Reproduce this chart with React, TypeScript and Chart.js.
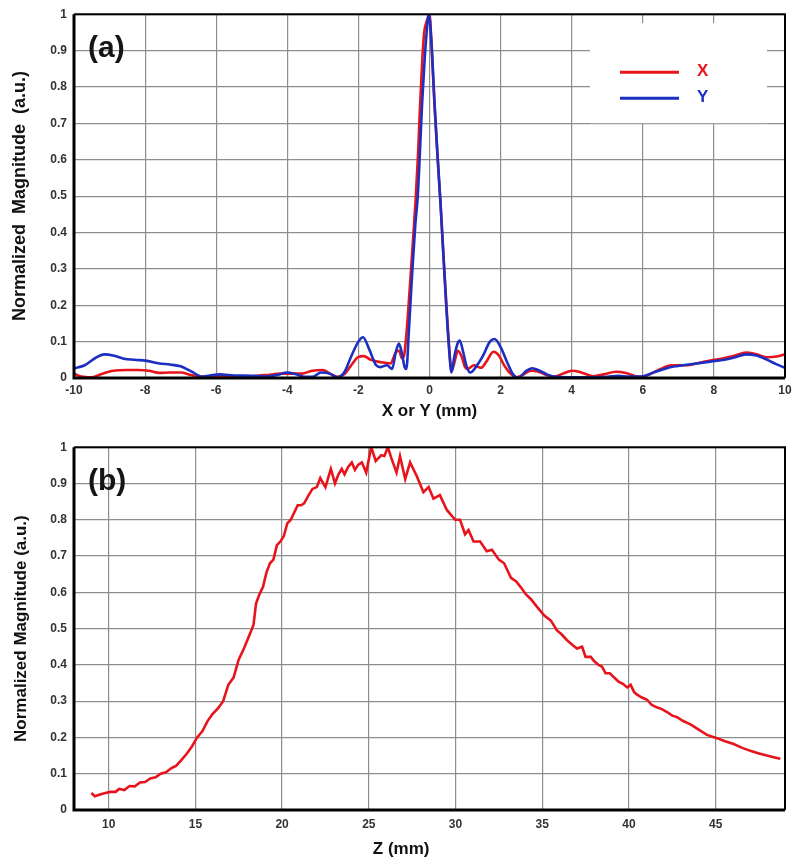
import React, { useEffect, useRef } from "react";
import { Chart, registerables } from "chart.js";

Chart.register(...registerables);

// ---------- Panel (a): lateral profile ----------
const xPosX = [-10, -9.8, -9.5, -9.2, -8.9, -8.5, -8.2, -7.9, -7.6, -7.3, -7.0, -6.7, -6.4, -6.0, -5.5, -5.0, -4.6, -4.2, -3.9, -3.6, -3.3, -3.0, -2.8, -2.6, -2.4, -2.2, -2.0, -1.85, -1.65, -1.45, -1.25, -1.1, -0.95, -0.85, -0.78, -0.72, -0.65, -0.56, -0.47, -0.39, -0.32, -0.27, -0.2, -0.15, -0.08, 0, 0.05, 0.14, 0.22, 0.31, 0.39, 0.47, 0.55, 0.62, 0.68, 0.8, 0.9, 1.0, 1.08, 1.25, 1.45, 1.6, 1.8, 1.95, 2.1, 2.3, 2.45, 2.65, 2.85, 3.05, 3.3, 3.5, 3.75, 4.0, 4.25, 4.6, 4.9, 5.25, 5.55, 5.9, 6.2, 6.5, 6.8, 7.2, 7.6, 7.9, 8.3, 8.6, 8.9, 9.2, 9.5, 9.8, 10.0];
const magX = [0.012, 0.004, 0.002, 0.012, 0.02, 0.022, 0.022, 0.02, 0.014, 0.015, 0.015, 0.008, 0.003, 0.005, 0.004, 0.005, 0.008, 0.012, 0.012, 0.012, 0.02, 0.022, 0.012, 0.003, 0.01, 0.035, 0.058, 0.06, 0.05, 0.045, 0.042, 0.04, 0.07, 0.075, 0.055, 0.06, 0.12, 0.24, 0.37, 0.49, 0.62, 0.74, 0.88, 0.95, 0.98, 1.0, 0.93, 0.75, 0.62, 0.48, 0.34, 0.21, 0.09, 0.02, 0.035, 0.075, 0.06, 0.03, 0.025, 0.035, 0.028, 0.045, 0.072, 0.062, 0.035, 0.01, 0.002, 0.01, 0.02, 0.018, 0.008, 0.004, 0.012, 0.02, 0.016, 0.005, 0.01, 0.017, 0.013, 0.003, 0.01, 0.025, 0.035, 0.035, 0.042, 0.048, 0.055, 0.062, 0.07, 0.065, 0.057, 0.06, 0.065];

const xPosY = [-10, -9.7, -9.4, -9.15, -8.9, -8.6, -8.3, -7.95, -7.6, -7.3, -7.0, -6.7, -6.4, -6.1, -5.9, -5.5, -5.0, -4.6, -4.3, -4.0, -3.75, -3.5, -3.3, -3.05, -2.8, -2.6, -2.4, -2.2, -2.0, -1.87, -1.7, -1.5, -1.38, -1.2, -1.05, -0.95, -0.86, -0.78, -0.7, -0.65, -0.58, -0.48, -0.4, -0.33, -0.27, -0.21, -0.14, -0.08, -0.02, 0.05, 0.14, 0.22, 0.31, 0.39, 0.47, 0.55, 0.62, 0.7, 0.79, 0.85, 0.95, 1.05, 1.15, 1.3, 1.5, 1.7, 1.83, 2.0, 2.2, 2.35, 2.5, 2.7, 2.89, 3.1, 3.3, 3.5, 4.0, 4.5, 5.0, 5.3, 5.6, 5.95, 6.3, 6.8, 7.3, 7.9, 8.3, 8.6, 8.9, 9.2, 9.5, 9.75, 10.0];
const magY = [0.026, 0.035, 0.055, 0.065, 0.062, 0.053, 0.05, 0.047, 0.04, 0.037, 0.032, 0.018, 0.004, 0.008, 0.01, 0.007, 0.006, 0.004, 0.008, 0.015, 0.01, 0.003, 0.003, 0.015, 0.012, 0.002, 0.015, 0.06, 0.1, 0.112, 0.08, 0.035, 0.03, 0.035, 0.025, 0.07, 0.095, 0.07, 0.03, 0.025, 0.13, 0.3, 0.42, 0.5, 0.62, 0.75, 0.87, 0.95, 1.0, 0.93, 0.76, 0.62, 0.48, 0.34, 0.2, 0.08, 0.015, 0.06, 0.095, 0.103, 0.07, 0.03, 0.015, 0.03, 0.06, 0.1, 0.107, 0.085, 0.04, 0.01, 0.0, 0.018, 0.027, 0.02, 0.01, 0.004, 0.002, 0.002, 0.003, 0.006, 0.004, 0.004, 0.015, 0.03, 0.037, 0.045, 0.05, 0.057, 0.065, 0.062, 0.05, 0.038, 0.028];

// ---------- Panel (b): axial profile ----------
const zPos = [9.0, 9.2, 9.5, 9.8, 10.1, 10.4, 10.6, 10.9, 11.2, 11.5, 11.8, 12.1, 12.4, 12.7, 13.0, 13.3, 13.6, 13.9, 14.2, 14.5, 14.8, 15.1, 15.4, 15.7, 16.0, 16.3, 16.6, 16.9, 17.2, 17.5, 17.8, 18.1, 18.35, 18.5, 18.7, 18.9, 19.1, 19.3, 19.5, 19.7, 19.9, 20.1, 20.3, 20.5, 20.7, 20.9, 21.1, 21.27, 21.5, 21.75, 22.0, 22.2, 22.5, 22.81, 23.05, 23.25, 23.44, 23.6, 23.8, 24.02, 24.2, 24.4, 24.6, 24.85, 25.14, 25.4, 25.72, 25.9, 26.1, 26.3, 26.6, 26.8, 27.1, 27.38, 27.77, 28.15, 28.45, 28.73, 29.1, 29.5, 29.98, 30.26, 30.55, 30.75, 31.04, 31.42, 31.8, 32.1, 32.5, 32.8, 33.2, 33.5, 33.78, 34.05, 34.35, 34.7, 35.12, 35.5, 35.85, 36.1, 36.43, 36.75, 37.0, 37.3, 37.5, 37.8, 38.0, 38.25, 38.45, 38.65, 38.9, 39.15, 39.4, 39.65, 39.9, 40.1, 40.3, 40.47, 40.75, 41.05, 41.3, 41.6, 41.9, 42.2, 42.5, 42.78, 43.1, 43.55, 44.0, 44.5, 45.08, 45.5, 46.04, 46.5, 47.0, 47.5, 47.96, 48.4, 48.73];
const magZ = [0.047, 0.038, 0.043, 0.047, 0.05, 0.05, 0.058, 0.055, 0.066, 0.065, 0.076, 0.077, 0.087, 0.09, 0.1, 0.104, 0.115, 0.122, 0.138, 0.155, 0.175, 0.2, 0.217, 0.245, 0.265, 0.28, 0.3, 0.345, 0.365, 0.415, 0.445, 0.48, 0.51, 0.57, 0.595, 0.615, 0.655, 0.68, 0.69, 0.73, 0.74, 0.755, 0.79, 0.8, 0.82, 0.84, 0.84, 0.845, 0.865, 0.885, 0.89, 0.915, 0.89, 0.94, 0.9, 0.925, 0.94, 0.925, 0.945, 0.958, 0.938, 0.952, 0.958, 0.93, 1.0, 0.962, 0.978, 0.976, 1.0, 0.97, 0.93, 0.975, 0.912, 0.958, 0.92, 0.876, 0.89, 0.858, 0.868, 0.827, 0.8, 0.8, 0.76, 0.772, 0.74, 0.74, 0.713, 0.717, 0.69, 0.68, 0.64, 0.63, 0.613, 0.595, 0.581, 0.56, 0.536, 0.522, 0.495, 0.485, 0.468, 0.455, 0.445, 0.45, 0.422, 0.422, 0.41, 0.4, 0.395, 0.377, 0.377, 0.365, 0.354, 0.348, 0.338, 0.345, 0.325, 0.318, 0.31, 0.304, 0.29, 0.283, 0.278, 0.27, 0.26, 0.256, 0.246, 0.236, 0.222, 0.207, 0.198, 0.19, 0.182, 0.172, 0.163, 0.156, 0.15, 0.145, 0.141];

const seriesLabels = ["X", "Y"];
const panelLabels = ["(a)", "(b)"];
const RED = "#e8141c";
const BLUE = "#1c2fc0";
const FONT = "'Liberation Sans', Arial, sans-serif";

Chart.defaults.font.family = FONT;

const toPts = (xs: number[], ys: number[]) => xs.map((x, i) => ({ x, y: ys[i] }));

const fmt = (v: any) => String(+Number(v).toFixed(1));

const framePlugin = (label: string, withLegend: boolean) => ({
  id: "frameAndLabels",
  afterDatasetsDraw(chart: any) {
    const { ctx, chartArea: a } = chart;
    ctx.save();
    if (withLegend) {
      const bx = a.right - 195;
      const by = a.top + 9;
      ctx.fillStyle = "#ffffff";
      ctx.fillRect(bx, by, 177, 100);
      chart.data.datasets.forEach((ds: any, i: number) => {
        const ly = a.top + 58 + i * 26;
        ctx.strokeStyle = ds.borderColor;
        ctx.lineWidth = 3;
        ctx.beginPath();
        ctx.moveTo(bx + 30, ly);
        ctx.lineTo(bx + 89, ly);
        ctx.stroke();
        ctx.fillStyle = ds.borderColor;
        ctx.font = `bold 17px ${FONT}`;
        ctx.textAlign = "left";
        ctx.textBaseline = "middle";
        ctx.fillText(ds.label, bx + 107, ly - 1);
      });
    }
    ctx.fillStyle = "#151515";
    ctx.font = `bold 30px ${FONT}`;
    ctx.textAlign = "left";
    ctx.textBaseline = "middle";
    ctx.fillText(label, a.left + 14, a.top + 35);
    ctx.strokeStyle = "#000";
    ctx.lineWidth = 2;
    ctx.beginPath();
    ctx.moveTo(a.left, a.top);
    ctx.lineTo(a.right, a.top);
    ctx.lineTo(a.right, a.bottom);
    ctx.stroke();
    ctx.lineWidth = 3;
    ctx.beginPath();
    ctx.moveTo(a.left, a.top);
    ctx.lineTo(a.left, a.bottom);
    ctx.lineTo(a.right, a.bottom);
    ctx.stroke();
    ctx.restore();
  },
});

const gridOpts = { color: "#8e8e8e", lineWidth: 1.2, drawTicks: false };

function makeConfigA(): any {
  return {
    type: "line",
    data: {
      datasets: [
        { label: seriesLabels[0], data: toPts(xPosX, magX), borderColor: RED, borderWidth: 2.6, pointRadius: 0, cubicInterpolationMode: "monotone", order: 1 },
        { label: seriesLabels[1], data: toPts(xPosY, magY), borderColor: BLUE, borderWidth: 2.6, pointRadius: 0, cubicInterpolationMode: "monotone", order: 0 },
      ],
    },
    options: {
      responsive: false,
      animation: false,
      layout: { padding: { top: 9, right: 15, left: 0, bottom: 0 } },
      plugins: { legend: { display: false }, tooltip: { enabled: false } },
      scales: {
        x: {
          type: "linear", min: -10, max: 10,
          ticks: { stepSize: 2, padding: 5, color: "#333", font: { size: 12, weight: "bold" } },
          grid: gridOpts, border: { display: false },
          title: { display: true, text: "X or Y (mm)", color: "#111", font: { size: 17, weight: "bold" }, padding: { top: 0, bottom: 11 } },
          afterFit: (s: any) => { s.height = 55; },
        },
        y: {
          type: "linear", min: 0, max: 1,
          ticks: { stepSize: 0.1, padding: 7, color: "#333", font: { size: 12, weight: "bold" }, callback: fmt },
          grid: gridOpts, border: { display: false },
          title: { display: true, text: "Normalized  Magnitude  (a.u.)", color: "#111", font: { size: 18, weight: "bold" }, padding: { top: 9, bottom: 0 } },
          afterFit: (s: any) => { s.width = 74; },
        },
      },
    },
    plugins: [framePlugin(panelLabels[0], true)],
  };
}

function makeConfigB(): any {
  return {
    type: "line",
    data: {
      datasets: [
        { label: "Z", data: toPts(zPos, magZ), borderColor: RED, borderWidth: 2.6, pointRadius: 0, tension: 0 },
      ],
    },
    options: {
      responsive: false,
      animation: false,
      layout: { padding: { top: 10, right: 15, left: 0, bottom: 0 } },
      plugins: { legend: { display: false }, tooltip: { enabled: false } },
      scales: {
        x: {
          type: "linear", min: 8, max: 49,
          ticks: { stepSize: 5, includeBounds: false, padding: 7, color: "#333", font: { size: 12, weight: "bold" } },
          grid: gridOpts, border: { display: false },
          title: { display: true, text: "Z (mm)" + "\u00a0".repeat(12), color: "#111", font: { size: 17, weight: "bold" }, padding: { top: 0, bottom: 7 } },
          afterFit: (s: any) => { s.height = 57; },
        },
        y: {
          type: "linear", min: 0, max: 1,
          ticks: { stepSize: 0.1, padding: 7, color: "#333", font: { size: 12, weight: "bold" }, callback: fmt },
          grid: gridOpts, border: { display: false },
          title: { display: true, text: "Normalized Magnitude (a.u.)", color: "#111", font: { size: 17, weight: "bold" }, padding: { top: 11, bottom: 0 } },
          afterFit: (s: any) => { s.width = 74; },
        },
      },
    },
    plugins: [framePlugin(panelLabels[1], false)],
  };
}

function ChartCanvas({ height, make }: { height: number; make: () => any }) {
  const ref = useRef<HTMLCanvasElement | null>(null);
  useEffect(() => {
    if (!ref.current) return;
    const chart = new Chart(ref.current, make());
    return () => chart.destroy();
  }, [make]);
  return <canvas ref={ref} width={800} height={height} style={{ display: "block", width: 800, height }} />;
}

export default function App() {
  return (
    <div style={{ position: "absolute", left: 0, top: 0, width: 800, height: 867, background: "#fff" }}>
      <ChartCanvas height={433} make={makeConfigA} />
      <ChartCanvas height={434} make={makeConfigB} />
    </div>
  );
}
